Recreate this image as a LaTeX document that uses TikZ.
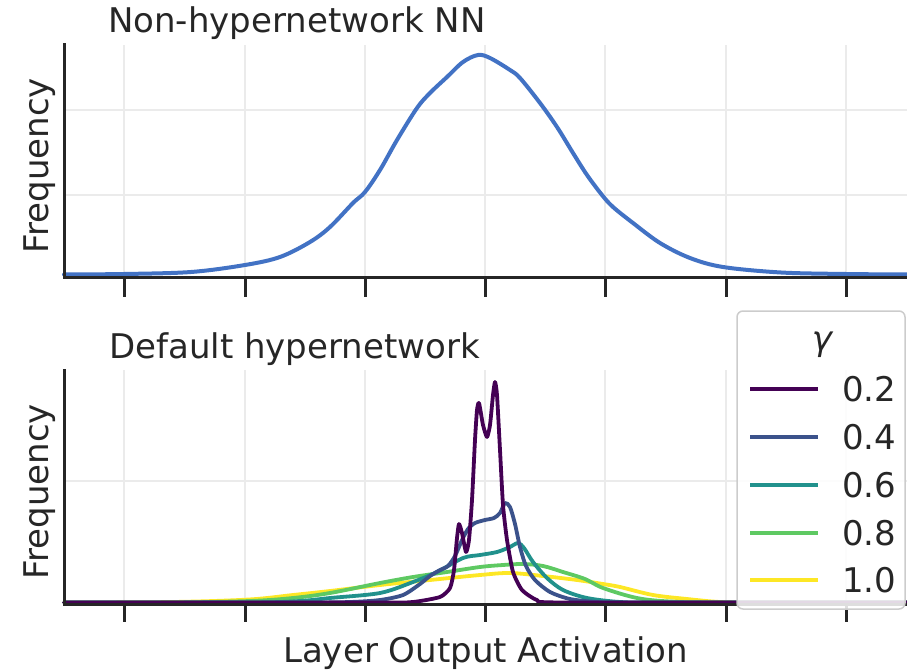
\documentclass[tikz,border=0pt]{standalone}
\usepackage{fontspec}
\setmainfont{DejaVu Sans}
\definecolor{txt}{HTML}{262626}
\definecolor{gridc}{HTML}{EBEBEB}
\definecolor{topblue}{RGB}{66,114,196}
\definecolor{vA}{HTML}{440154}
\definecolor{vB}{HTML}{3B528B}
\definecolor{vC}{HTML}{21918C}
\definecolor{vD}{HTML}{5EC962}
\definecolor{vE}{HTML}{FDE725}
\definecolor{legframe}{HTML}{CCCCCC}
\tikzset{
  gridline/.style={gridc, line width=2pt},
  spine/.style={txt, line width=3pt, line cap=rect},
  tickmark/.style={txt, line width=3pt},
  curve/.style={line width=3.8pt, line join=round, line cap=round},
  lab/.style={inner sep=0pt, anchor=base west, text=txt},
  ylab/.style={inner sep=0pt, rotate=90, text=txt},
  legline/.style={line width=4pt},
}
\begin{document}
\begin{tikzpicture}[x=1pt, y=-1pt, font=\fontsize{34}{40}\selectfont]
\useasboundingbox (0,0) rectangle (907,671);
% grids
\foreach \x in {124,245,365,485,605,726,846} {
  \draw[gridline] (\x,45) -- (\x,277);
  \draw[gridline] (\x,370) -- (\x,604);
}
\draw[gridline] (64,110) -- (907,110);
\draw[gridline] (64,195) -- (907,195);
\draw[gridline] (64,481) -- (907,481);
% top curve
\draw[curve, topblue, line width=4pt] plot[smooth, tension=0.55] coordinates {
 (64,274.5) (124,274) (191,272) (245,265) (280,257) (310,242) (330,227) (353,203)
 (365,192) (380,170) (397,140) (417,108) (430,93) (447,77) (463,62) (478,55)
 (490,58) (510,70) (520,78) (540,103) (557,127) (573,153) (587,175) (602,195)
 (613,207) (633,223) (660,243) (690,258) (723,267) (781,272.5) (846,274) (907,274.5)};
% bottom curves (yellow first, purple last)
\draw[curve, vE] plot[smooth, tension=0.55] coordinates {
 (64,602.5) (173,602) (249,599.5) (293,595) (330,591) (380,585) (430,580) (480,575)
 (510,573) (543,576) (577,580) (603,584) (620,587) (653,595) (687,599) (720,602) (760,602.5) (907,602.5)};
\draw[curve, vD] plot[smooth, tension=0.55] coordinates {
 (64,602.5) (173,602.5) (250,601) (293,598) (330,593) (380,583) (413,577) (447,572)
 (480,567) (503,565) (523,564) (543,566) (563,572) (585,579) (603,588) (637,598)
 (670,601.5) (720,602.5) (907,602.5)};
\draw[curve, vC] plot[smooth, tension=0.5] coordinates {
 (64,602.5) (250,602.5) (300,601) (330,598) (380,593) (413,582) (437,572) (463,558)
 (480,555) (497,552) (510,547) (518,543) (524,548) (533,562) (547,578) (563,590)
 (587,598) (620,602) (660,602.5) (907,602.5)};
\draw[curve, vB] plot[smooth, tension=0.45] coordinates {
 (64,602.5) (300,602.5) (350,602) (380,600) (403,595) (420,584) (430,576) (440,570)
 (448,566) (455,556) (462,540) (468,529) (475,523) (485,520) (494,518) (500,513)
 (505,503) (510,507) (515,524) (520,547) (526,566) (535,580) (550,592) (570,599)
 (597,602) (630,602.5) (907,602.5)};
\draw[curve, vA] plot[smooth, tension=0.35] coordinates {
 (64,602.5) (380,602.5) (413,602) (440,597) (450,588) (454,570) (457,538) (459,524)
 (462,533) (466,552) (469,540) (472,500) (475,440) (477,410) (479,403) (483,425)
 (487,437) (490,425) (493,395) (495,382) (497,395) (500,450) (503,505) (507,540)
 (513,572) (522,590) (537,600) (563,602.5) (907,602.5)};
% spines and ticks
\draw[spine] (64,45) -- (64,277) -- (907,277);
\draw[spine] (64,370) -- (64,604.5) -- (907,604.5);
\foreach \x in {124,245,365,485,605,726,846} {
  \draw[tickmark] (\x,277) -- (\x,297);
  \draw[tickmark] (\x,604.5) -- (\x,622);
}
% texts
\node[lab] (t1) at (108,33) {Non-hypernetwork NN};
\node[lab] (t2) at (109,358) {Default hypernetwork};
\node[lab] (xl) at (283,662) {Layer Output Activation};
\node[ylab] (yl1) at (40,166) {Frequency};
\node[ylab] (yl2) at (40,492) {Frequency};
% legend
\draw[legframe, line width=1.5pt, fill=white, fill opacity=0.85, rounded corners=6pt] (737,311) rectangle (905,609);
\node[inner sep=0pt, text=txt] (lgt) at (822,345) {\itshape γ};
\coordinate (a1) at (750,389.3); \coordinate (b1) at (818,389.3);
\coordinate (a2) at (750,437.3); \coordinate (b2) at (818,437.3);
\coordinate (a3) at (750,485);   \coordinate (b3) at (818,485);
\coordinate (a4) at (750,533.3); \coordinate (b4) at (818,533.3);
\coordinate (a5) at (750,580);   \coordinate (b5) at (818,580);
\draw[legline, vA] (a1) -- (b1);
\draw[legline, vB] (a2) -- (b2);
\draw[legline, vC] (a3) -- (b3);
\draw[legline, vD] (a4) -- (b4);
\draw[legline, vE] (a5) -- (b5);
\node[lab] (l1) at (842,401) {0.2};
\node[lab] (l2) at (842,449) {0.4};
\node[lab] (l3) at (842,497) {0.6};
\node[lab] (l4) at (842,545) {0.8};
\node[lab] (l5) at (842,592) {1.0};
\end{tikzpicture}
\end{document}
